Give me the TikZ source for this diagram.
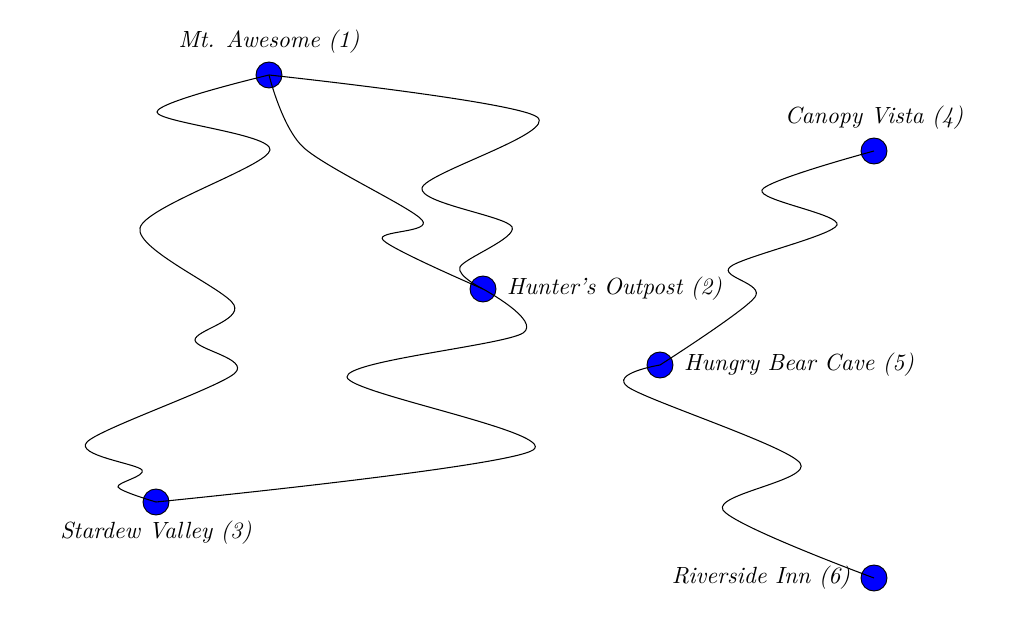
\documentclass[tikz,border=0pt]{standalone}
\begin{document}
\begin{tikzpicture}[x=0.015cm,y=-0.015cm,
	place/.style={circle, draw=black, fill=blue, minimum size=0.39cm, inner sep=0pt},
	trail/.style={black, line width=0.45pt}]
	
	\useasboundingbox (0,0) rectangle (1018,640);
	
	\node[place, label={[label distance=0pt]above:\textit{Mt. Awesome (1)}}] (awesome) at (269,75) {};
	\node[place, label={[label distance=1pt]right:\textit{Hunter's Outpost (2)}}] (hunter) at (483,289) {};
	\node[place, label={[label distance=-1pt]below:\textit{Stardew Valley (3)}}] (stardew) at (156,502) {};
	\node[place, label={[label distance=0pt]above:\textit{Canopy Vista (4)}}] (canopy) at (874,151) {};
	\node[place, label={[label distance=1pt]right:\textit{Hungry Bear Cave (5)}}] (bear) at (660,365) {};
	\node[place, label={[label distance=1pt]left:\textit{Riverside Inn (6)}}] (inn) at (874,578) {};
	
	\draw[trail] plot[smooth, tension=0.5] coordinates {(awesome.center) (157,112) (270,150) (140,228) (234,305) (195,340) (235,373) (87,442) (142,470) (118,487) (stardew.center)};
	\draw[trail] plot[smooth, tension=0.5] coordinates {(awesome.center) (303,147) (422,220) (383,240) (hunter.center)};
	\draw[trail] plot[smooth, tension=0.5] coordinates {(awesome.center) (537,117) (422,188) (512,227) (460,267) (hunter.center)};
	\draw[trail] plot[smooth, tension=0.5] coordinates {(hunter.center) (523,333) (347,377) (533,450) (stardew.center)};
	
	\draw[trail] plot[smooth, tension=0.5] coordinates {(canopy.center) (762,190) (837,225) (730,267) (755,297) (bear.center)};
	\draw[trail] plot[smooth, tension=0.5] coordinates {(bear.center) (628,387) (800,463) (723,510) (inn.center)};
	
\end{tikzpicture}
\end{document}
